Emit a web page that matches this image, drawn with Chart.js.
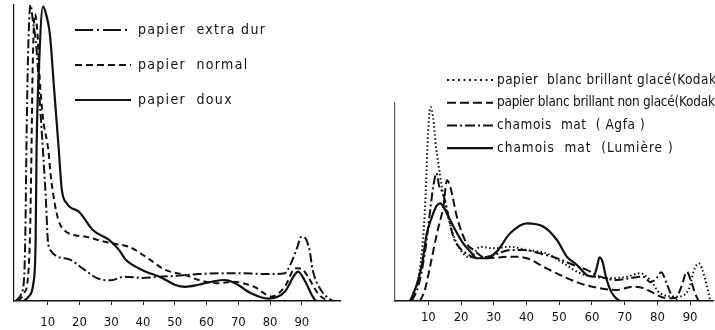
<!DOCTYPE html>
<html>
<head>
<meta charset="utf-8">
<script src="https://cdn.jsdelivr.net/npm/chart.js"></script>
<style>
  body { margin: 0; background: #fff; }
  #wrap { position: relative; width: 715px; height: 330px; overflow: hidden; }
  canvas { position: absolute; top: 0; }
  #left-chart { left: 0; }
  #right-chart { left: 360px; }
</style>
</head>
<body>
<div id="wrap">
  <canvas id="left-chart" width="355" height="330"></canvas>
  <canvas id="right-chart" width="355" height="330"></canvas>
</div>
<script>
var xTicks = [10, 20, 30, 40, 50, 60, 70, 80, 90];

// left chart: papier extra dur / normal / doux
var leftLabels = ['papier  extra dur', 'papier  normal', 'papier  doux'];
var extraDurX = [0, 1.5, 2.6, 3.0, 3.3, 3.8, 4.6, 5.3, 6.5, 7.6, 8.5, 9.4, 10.1, 11, 13, 17, 21, 26, 30, 34, 40, 44, 49, 57.5, 68, 80.5, 84.6, 86.6, 88.5, 89.8, 90.8, 92.4, 93.4, 96, 99, 100];
var extraDurY = [0, 2, 8, 25, 51, 82, 100, 95, 85, 66, 51, 35, 20, 17, 15, 14, 11, 7.5, 7, 8.2, 7.8, 8.1, 8.4, 9.1, 9.4, 9.1, 9.4, 12.8, 18, 21.7, 21.5, 17.2, 10.5, 3.7, 0.5, 0];
var normalX = [0.8, 2.5, 3.8, 4.5, 4.9, 5.3, 6.0, 6.8, 7.5, 8.5, 10.2, 11, 12.2, 13.5, 15.8, 22, 29.4, 35.6, 40.8, 47, 53.3, 57.5, 63.8, 68, 75, 80.5, 84.6, 88, 89.8, 91.9, 95, 98];
var normalY = [0, 2.5, 8, 25, 51, 80, 97, 90, 75, 62, 51, 42, 33, 27, 23.4, 21.7, 19.6, 18.3, 15, 10.5, 8.8, 7.1, 6, 6.5, 4.8, 1.5, 4.8, 11.1, 11, 8.2, 2.6, 0];
var douxX = [2.5, 4, 5.5, 6.2, 6.5, 7.3, 8.5, 9.2, 10.7, 12, 13.5, 14.4, 16, 20, 24.2, 29.4, 32.5, 34.6, 39.7, 46, 50.2, 53.3, 57.5, 61.6, 65.8, 69, 74, 79.4, 84.6, 87.7, 88.8, 90.8, 93.4, 94.4];
var douxY = [0, 1.5, 6, 20, 51, 80, 99.5, 98, 90, 72, 51, 38, 33, 30, 24, 20.6, 17.2, 13.9, 10.5, 7.8, 5.4, 4.8, 5.5, 6.5, 7.1, 6, 2.6, 0.8, 3.1, 8.8, 9.9, 7.1, 1.5, 0];

// right chart: papiers Kodak, Agfa, Lumière
var rightLabels = ['papier  blanc brillant glacé(Kodak)', 'papier blanc brillant non glacé(Kodak)', 'chamois  mat  ( Agfa )', 'chamois  mat  (Lumière )'];
var glaceX = [4.4, 5.4, 7, 8.5, 9.2, 9.9, 10.7, 11.5, 12.2, 13, 14.1, 16.1, 18.7, 22.8, 25.8, 29.9, 35, 40, 46.2, 51.3, 56.4, 60.5, 65.6, 70.7, 74.7, 77.8, 80.8, 86, 89.5, 91.4, 92.7, 94.6, 96.2];
var glaceY = [0, 4, 12, 34, 55, 85, 98, 92, 80, 70, 58, 42, 29, 22, 27.4, 26.6, 27.4, 25.8, 24, 19, 14, 12.3, 11.5, 12.3, 14, 10.6, 4, 2.2, 5.6, 16.5, 19, 11, 0];
var nonGlaceX = [7.5, 9, 10.5, 12.6, 14.6, 15.7, 16.8, 18.7, 21.7, 23.8, 27.9, 35, 40.1, 45.2, 50.3, 56.4, 62.5, 67.6, 72.7, 75.7, 78, 82.9, 85.5, 87.5, 89, 90.3, 91.5, 92.6];
var nonGlaceY = [0, 6, 17.3, 34, 48, 61, 57, 42.6, 29, 25.8, 21.6, 22.4, 21.6, 17.3, 13.1, 8.9, 6.4, 5.6, 7.2, 6.5, 4.7, 1.4, 1.5, 8, 14.8, 10, 4, 0];
var agfaX = [5, 7, 9, 10.5, 11.5, 12.5, 13.3, 14.3, 15.2, 16.5, 17.6, 19.5, 21.7, 24.8, 29.9, 35, 39, 44.2, 49.3, 54.3, 58.4, 62.5, 67.6, 71.7, 75.7, 77.8, 79.5, 81.2, 82.8, 84.3, 86];
var agfaY = [0, 8, 25, 45, 58, 64.5, 58, 55, 50, 40, 32.5, 27, 24, 21.6, 23.2, 25.8, 25.8, 24, 21.6, 18.2, 15.7, 12.3, 10.6, 11.5, 12.3, 9.5, 11, 14.5, 9, 3, 0.5];
var lumiereX = [4.4, 5.5, 6.9, 8.2, 9.5, 11, 12.5, 13.6, 14.8, 16.6, 18.5, 20.7, 22.8, 24.8, 27.9, 30.9, 35, 40.1, 45.2, 49.3, 52.3, 55.4, 58.4, 60.5, 61.5, 62.3, 63.2, 64.3, 65.6, 67, 68.6];
var lumiereY = [0, 4, 10.6, 20, 34, 42, 48, 49.3, 47, 41, 35, 29, 25, 21.6, 21.6, 25, 34.2, 39.2, 37.5, 30.8, 22.4, 18.2, 13.1, 12.3, 17, 22, 20, 12, 5.6, 2, 0];

function points(xs, ys) {
  return xs.map(function(x, i) { return {x: x, y: ys[i]}; });
}

function curve(label, xs, ys, dash, width) {
  return {
    label: label,
    data: points(xs, ys),
    borderColor: '#111',
    borderWidth: width,
    borderDash: dash,
    pointRadius: 0,
    fill: false,
    cubicInterpolationMode: 'monotone'
  };
}

// legend drawn inside the picture, line sample then text
var legendLines = {
  id: 'legendLines',
  afterDraw: function(chart, args, opts) {
    var ctx = chart.ctx;
    ctx.save();
    ctx.font = opts.font;
    ctx.fillStyle = '#111';
    ctx.textBaseline = 'middle';
    chart.data.datasets.forEach(function(ds, i) {
      var y = opts.y + i * opts.gap;
      ctx.beginPath();
      ctx.setLineDash(opts.dashes[i]);
      ctx.lineWidth = ds.borderWidth;
      ctx.strokeStyle = ds.borderColor;
      ctx.moveTo(opts.x, y);
      ctx.lineTo(opts.x + opts.len, y);
      ctx.stroke();
      if ('letterSpacing' in ctx) ctx.letterSpacing = opts.spacing[i] + 'px';
      ctx.fillText(ds.label, opts.x + opts.len + opts.textGap, y);
    });
    ctx.restore();
  }
};

function makeOptions(xMin, xMax, pad, labelPad, axisDash, legend) {
  return {
    responsive: false,
    animation: false,
    layout: {padding: pad},
    plugins: {legend: {display: false}, tooltip: {enabled: false}, legendLines: legend},
    scales: {
      x: {
        type: 'linear',
        min: xMin,
        max: xMax,
        afterBuildTicks: function(scale) {
          scale.ticks = xTicks.map(function(v) { return {value: v}; });
        },
        afterFit: function(scale) { scale.height = 29; },
        grid: {drawOnChartArea: false, drawTicks: true, tickLength: 4, color: '#222', lineWidth: 1},
        border: {display: true, color: '#111', width: 1.5},
        ticks: {
          color: '#111',
          padding: labelPad,
          maxRotation: 0,
          font: {family: "'DejaVu Sans Condensed', 'DejaVu Sans'", size: 13}
        }
      },
      y: {
        min: 0,
        max: 100,
        grid: {display: false, drawTicks: false},
        border: {display: true, color: axisDash.length ? '#555' : '#111', width: 1.2, dash: axisDash},
        ticks: {display: false}
      }
    }
  };
}

new Chart(document.getElementById('left-chart'), {
  type: 'line',
  data: {
    datasets: [
      curve(leftLabels[0], extraDurX, extraDurY, [9, 3, 2, 3], 2),
      curve(leftLabels[1], normalX, normalY, [6, 4], 2),
      curve(leftLabels[2], douxX, douxY, [], 2.2)
    ]
  },
  options: makeOptions(-0.6, 102, {left: 14, top: 5, right: 15, bottom: 0}, 10, [],
    {x: 75, y: 30, gap: 35, len: 56, textGap: 7, spacing: [1.3, 1.3, 1.3],
     font: "14px 'DejaVu Sans Condensed'", dashes: [[18, 4, 2, 4], [7, 4], []]}),
  plugins: [legendLines]
});

new Chart(document.getElementById('right-chart'), {
  type: 'line',
  data: {
    datasets: [
      curve(rightLabels[0], glaceX, glaceY, [1.5, 2.5], 2),
      curve(rightLabels[1], nonGlaceX, nonGlaceY, [8, 4], 2),
      curve(rightLabels[2], agfaX, agfaY, [9, 3, 2, 3], 2),
      curve(rightLabels[3], lumiereX, lumiereY, [], 2.2)
    ]
  },
  options: makeOptions(-0.2, 97, {left: 35, top: 103, right: 2, bottom: 0}, 5, [1, 2],
    {x: 87, y: 80, gap: 22.7, len: 46, textGap: 4, spacing: [0.45, -0.25, 0.6, 1.0],
     font: "13.5px 'DejaVu Sans Condensed'", dashes: [[2, 3.5], [9, 4], [10, 3, 2, 3], []]}),
  plugins: [legendLines]
});
</script>
</body>
</html>
